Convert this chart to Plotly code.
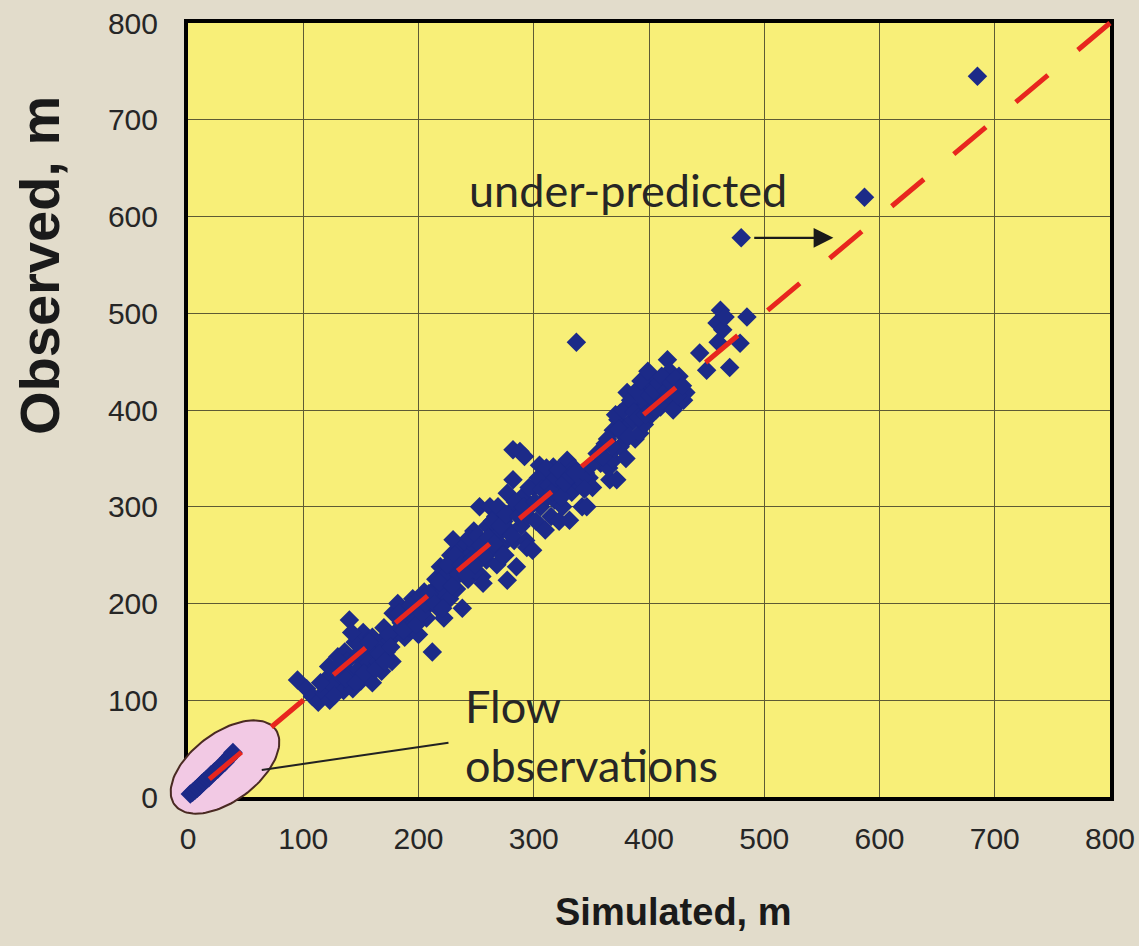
import numpy as np
import plotly.graph_objects as go

# ---------------- data ----------------
head_sim = [95, 103, 108, 113, 118, 120, 123, 126, 128, 130, 132, 135, 136, 138, 140, 140, 143, 145, 147, 148,
            150, 152, 154, 156, 158, 160, 160, 162, 165, 167, 168, 170, 172, 175, 177, 178, 180,
            182, 185, 188, 190, 192, 195, 197, 199, 200, 202, 205, 207, 210, 212, 213, 215, 217, 219, 220,
            222, 224, 226, 227, 228, 230, 231, 233, 235, 236, 238, 240, 242, 243, 245, 247, 248, 250, 252,
            253, 255, 256, 258, 259, 260, 262, 263,
            265, 267, 268, 270, 272, 274, 275, 277, 277, 279, 280, 282, 282, 283, 285, 286, 288, 289, 290,
            292, 293, 294, 295, 297, 299,
            300, 302, 305, 306, 308, 310, 312, 314, 315, 317, 318, 320, 322, 323, 325, 326, 329, 330, 331,
            333, 335, 338, 340, 342, 345, 346, 348, 351,
            355, 358, 362, 365, 366, 369, 369, 370, 372, 373, 375, 375, 377, 380, 381, 383, 385, 386, 388,
            390, 392, 394, 396, 398, 398, 400, 402, 403, 405, 407, 410, 412, 414, 416, 416, 418, 420, 422,
            424, 426, 427, 428, 430, 432,
            444, 450, 459, 462, 464, 466, 470, 479, 485, 460,
            337, 480, 587, 685,
            115, 122, 127, 133, 137, 142, 146, 149, 153, 157, 163, 166, 171, 174, 176, 183, 187, 193, 198,
            203, 206, 209, 214, 218, 221, 225, 229, 232, 237, 241, 244, 246, 249, 251, 254, 257, 261, 264,
            266, 269, 271, 273, 276, 281, 284, 287, 291, 296, 301, 304, 307, 311, 313, 316, 319, 321, 324,
            327, 332, 336, 344, 349, 360, 364, 368, 371, 374, 378, 382, 384, 387, 389, 391, 393, 395, 397,
            399, 401, 404, 406, 409, 411, 413, 415, 417, 419, 421, 423, 425, 429]
head_obs = [121, 112, 104, 98, 108, 122, 100, 115, 132, 145, 125, 110, 150, 140, 183, 128, 112, 160, 145, 132,
            120, 170, 152, 140, 128, 165, 118, 150, 140, 160, 130, 175, 150, 162, 140, 190, 170,
            200, 180, 165, 192, 175, 205, 185, 204, 168, 195, 212, 185, 200, 150, 214, 225, 195, 238, 210,
            185, 230, 222, 205, 250, 266, 240, 215, 230, 255, 195, 245, 262, 225, 250, 235, 275, 258, 245,
            300, 228, 221, 265, 245, 280, 300, 255,
            270, 290, 240, 273, 260, 285, 250, 314, 224, 275, 295, 328, 359, 265, 238, 300, 357, 280, 310,
            352, 265, 258, 290, 300, 255,
            320, 285, 343, 300, 330, 276, 310, 335, 290, 341, 307, 325, 285, 317, 300, 340, 348, 330, 286,
            315, 340, 325, 328, 300, 335, 300, 330, 320,
            355, 345, 365, 340, 328, 348, 379, 360, 328, 390, 362, 397, 375, 350, 418, 385, 405, 390, 370,
            415, 376, 400, 385, 424, 403, 430, 395, 434, 410, 420, 403, 425, 415, 452, 431, 440, 410, 425,
            421, 435, 424, 410, 410, 418,
            459, 441, 490, 503, 483, 496, 444, 469, 496, 470,
            470, 578, 620, 745,
            118, 135, 105, 138, 122, 170, 118, 150, 128, 160, 132, 148, 140, 168, 155, 190, 172, 198, 178,
            190, 200, 210, 200, 222, 195, 240, 218, 250, 240, 230, 268, 245, 240, 270, 260, 250, 268, 285,
            262, 300, 280, 250, 292, 270, 305, 290, 300, 320, 305, 330, 318, 340, 322, 315, 330, 338, 310,
            325, 332, 335, 318, 342, 352, 370, 362, 395, 380, 400, 372, 410, 398, 420, 392, 430, 412, 395,
            440, 415, 420, 400, 428, 435, 408, 420, 415, 428, 400, 432, 415, 425]

flow_sim = [2, 4, 6, 8, 10, 12, 14, 16, 18, 20, 23, 26, 29, 32, 35, 37, 39]
flow_obs = [3, 5, 7, 9, 11, 14, 16, 18, 20, 23, 26, 29, 33, 36, 40, 43, 46]

one_to_one = [0, 800]
x_ticks = [0, 100, 200, 300, 400, 500, 600, 700, 800]
y_ticks = [0, 100, 200, 300, 400, 500, 600, 700, 800]

# ---------------- layout geometry ----------------
W, H = 1139, 946
PL, PR, PT, PB = 188, 1110, 23, 797          # plot-area edges in pixels
xdom = [PL / W, PR / W]
ydom = [(H - PB) / H, (H - PT) / H]
xspan = 800.0 / (xdom[1] - xdom[0])
yspan = 800.0 / (ydom[1] - ydom[0])
x2range = [-xdom[0] * xspan, (1 - xdom[0]) * xspan]
y2range = [-ydom[0] * yspan, (1 - ydom[0]) * yspan]

BG = "#e2dccb"
YELLOW = "#f8ef78"
NAVY = "#1c2a88"
RED = "#e8261e"
GRID = "#5e5a34"
TXT = "#262626"

# ellipse around the flow observations (pixel geometry -> data units)
px_per_x = (PR - PL) / 800.0
px_per_y = (PB - PT) / 800.0
t = np.linspace(0, 2 * np.pi, 120)
cx, cy = 225.0, 946 - 767.0
a_, b_, ang = 63.0, 34.0, np.deg2rad(37)
ex_px = cx + a_ * np.cos(t) * np.cos(ang) - b_ * np.sin(t) * np.sin(ang)
ey_px = cy + a_ * np.cos(t) * np.sin(ang) + b_ * np.sin(t) * np.cos(ang)
ell_x = (ex_px - PL) / px_per_x
ell_y = (ey_px - (H - PB)) / px_per_y

fig = go.Figure()

fig.add_trace(go.Scatter(x=ell_x, y=ell_y, mode="lines", fill="toself",
                         fillcolor="#f2c9e4", line=dict(color="#4a2a22", width=2),
                         xaxis="x2", yaxis="y2", hoverinfo="skip", showlegend=False))
fig.add_trace(go.Scatter(x=flow_sim, y=flow_obs, mode="markers",
                         marker=dict(symbol="diamond", size=15, color=NAVY),
                         xaxis="x2", yaxis="y2", showlegend=False))
fig.add_trace(go.Scatter(x=head_sim, y=head_obs, mode="markers",
                         marker=dict(symbol="diamond", size=15, color=NAVY),
                         xaxis="x2", yaxis="y2", showlegend=False))
fig.add_trace(go.Scatter(x=one_to_one[::-1], y=one_to_one[::-1], mode="lines",
                         line=dict(color=RED, width=5, dash="42px,39px"),
                         xaxis="x2", yaxis="y2", hoverinfo="skip", showlegend=False))

tickfont = dict(family="Liberation Sans Narrow, Arial Narrow, Liberation Sans, Arial", size=30, color=TXT)

fig.update_layout(
    template="none",
    width=W, height=H, autosize=False,
    margin=dict(l=0, r=0, t=0, b=0, pad=0),
    paper_bgcolor=BG, plot_bgcolor="rgba(0,0,0,0)",
    showlegend=False,
    xaxis=dict(domain=xdom, range=[0, 800], tickvals=x_ticks, ticktext=[str(v) for v in x_ticks],
               showgrid=True, gridcolor=GRID, gridwidth=1, zeroline=False, automargin=False,
               showline=True, mirror=True, linecolor="black", linewidth=4,
               ticks="", ticklabelstandoff=12, tickfont=tickfont, anchor="y", fixedrange=True),
    yaxis=dict(domain=ydom, range=[0, 800], tickvals=y_ticks, ticktext=[str(v) for v in y_ticks],
               showgrid=True, gridcolor=GRID, gridwidth=1, zeroline=False, automargin=False,
               showline=True, mirror=True, linecolor="black", linewidth=4,
               ticks="", ticklabelstandoff=20, tickfont=tickfont, anchor="x", fixedrange=True),
    xaxis2=dict(domain=[0, 1], range=x2range, visible=False, anchor="y2", fixedrange=True,
                automargin=False),
    yaxis2=dict(domain=[0, 1], range=y2range, visible=False, anchor="x2", fixedrange=True,
                automargin=False),
)

fig.add_shape(type="rect", xref="x", yref="y", x0=0, x1=800, y0=0, y1=800,
              fillcolor=YELLOW, line=dict(width=0), layer="below")
fig.add_shape(type="line", xref="x", yref="y", x0=64, y0=28, x1=226, y1=56,
              line=dict(color="#222222", width=2), layer="above")

annfont = dict(family="Lato, Open Sans, sans-serif", size=45, color=TXT)
fig.add_annotation(x=242, y=627, xref="x", yref="y", text="under-predicted", showarrow=False,
                   xanchor="left", yanchor="middle", font=annfont)
fig.add_annotation(x=239, y=64, xref="x", yref="y", text="Flow<br>observations", showarrow=False,
                   xanchor="left", yanchor="middle", align="left", font=annfont)
fig.add_annotation(x=560, y=578, ax=490, ay=578, xref="x", yref="y", axref="x", ayref="y",
                   text="", showarrow=True, arrowhead=2, arrowsize=1.8, arrowwidth=2.2,
                   arrowcolor="#1a1a1a")

fig.add_annotation(x=39 / W, y=1 - 266 / H, xref="paper", yref="paper", text="<b>Observed, m</b>",
                   textangle=-90, showarrow=False, xanchor="center", yanchor="middle",
                   font=dict(family="Liberation Sans, Arial, sans-serif", size=56, color="#1a1a1a"))
fig.add_annotation(x=673 / W, y=1 - 912 / H, xref="paper", yref="paper", text="<b>Simulated, m</b>",
                   showarrow=False, xanchor="center", yanchor="middle",
                   font=dict(family="Liberation Sans, Arial, sans-serif", size=38,
                             color="#1a1a1a"))

fig.write_html("out.html")
